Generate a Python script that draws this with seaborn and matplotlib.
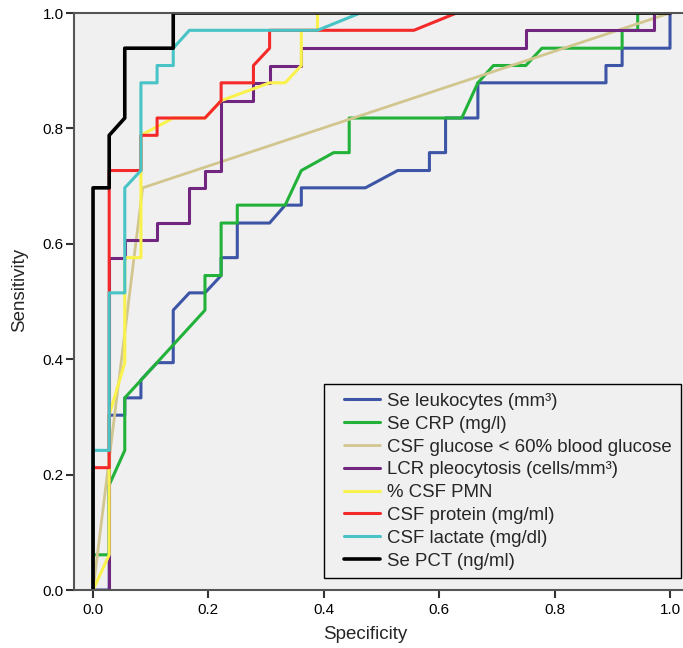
import matplotlib
matplotlib.use('Agg')

import pandas as pd
import matplotlib.pyplot as plt
import seaborn as sns
from matplotlib.legend_handler import HandlerLine2D
from matplotlib.lines import Line2D

# ROC curves
labels = ['Se leukocytes (mm³)', 'Se CRP (mg/l)', 'CSF glucose < 60% blood glucose',
          'LCR pleocytosis (cells/mm³)', '% CSF PMN', 'CSF protein (mg/ml)',
          'CSF lactate (mg/dl)', 'Se PCT (ng/ml)']

leuko_x = [0, 0.028, 0.028, 0.055, 0.055, 0.083, 0.083, 0.111, 0.139, 0.139, 0.167, 0.194,
           0.222, 0.222, 0.25, 0.25, 0.306, 0.333, 0.361, 0.361, 0.472, 0.528, 0.583, 0.583,
           0.611, 0.611, 0.667, 0.667, 0.889, 0.889, 0.917, 0.917, 1.0, 1.0]
leuko_y = [0, 0, 0.303, 0.303, 0.333, 0.333, 0.364, 0.394, 0.394, 0.485, 0.515, 0.515,
           0.545, 0.576, 0.576, 0.636, 0.636, 0.667, 0.667, 0.697, 0.697, 0.727, 0.727, 0.758,
           0.758, 0.818, 0.818, 0.879, 0.879, 0.909, 0.909, 0.939, 0.939, 1.0]

crp_x = [0, 0, 0.028, 0.028, 0.055, 0.055, 0.194, 0.194, 0.222, 0.222, 0.25, 0.25, 0.333,
         0.361, 0.417, 0.444, 0.444, 0.639, 0.667, 0.694, 0.75, 0.778, 0.917, 0.917, 0.944,
         0.944, 1.0]
crp_y = [0, 0.061, 0.061, 0.182, 0.242, 0.333, 0.485, 0.545, 0.545, 0.636, 0.636, 0.667,
         0.667, 0.727, 0.758, 0.758, 0.818, 0.818, 0.879, 0.909, 0.909, 0.939, 0.939, 0.97,
         0.97, 1.0, 1.0]

glucose_x = [0, 0.086, 1.0]
glucose_y = [0, 0.697, 1.0]

pleo_x = [0, 0.028, 0.028, 0.055, 0.055, 0.111, 0.111, 0.167, 0.167, 0.194, 0.194, 0.222,
          0.222, 0.278, 0.278, 0.306, 0.306, 0.361, 0.361, 0.75, 0.75, 0.972, 0.972, 1.0]
pleo_y = [0, 0, 0.576, 0.576, 0.606, 0.606, 0.636, 0.636, 0.697, 0.697, 0.727, 0.727,
          0.848, 0.848, 0.879, 0.879, 0.909, 0.909, 0.939, 0.939, 0.97, 0.97, 1.0, 1.0]

pmn_x = [0, 0.028, 0.028, 0.055, 0.055, 0.083, 0.083, 0.139, 0.194, 0.222, 0.306, 0.333,
         0.361, 0.361, 0.389, 0.389, 1.0]
pmn_y = [0, 0.061, 0.303, 0.394, 0.576, 0.576, 0.788, 0.818, 0.818, 0.848, 0.879, 0.879,
         0.909, 0.97, 0.97, 1.0, 1.0]

protein_x = [0, 0, 0.028, 0.028, 0.083, 0.083, 0.111, 0.111, 0.194, 0.222, 0.222, 0.278,
             0.278, 0.306, 0.306, 0.556, 0.63, 1.0]
protein_y = [0, 0.212, 0.212, 0.727, 0.727, 0.788, 0.788, 0.818, 0.818, 0.848, 0.879, 0.879,
             0.909, 0.939, 0.97, 0.97, 1.0, 1.0]

lactate_x = [0, 0, 0.028, 0.028, 0.055, 0.055, 0.083, 0.083, 0.111, 0.111, 0.139, 0.139,
             0.167, 0.389, 0.463, 1.0]
lactate_y = [0, 0.242, 0.242, 0.515, 0.515, 0.697, 0.727, 0.879, 0.879, 0.909, 0.909, 0.939,
             0.97, 0.97, 1.0, 1.0]

pct_x = [0, 0, 0.028, 0.028, 0.055, 0.055, 0.139, 0.139, 1.0]
pct_y = [0, 0.697, 0.697, 0.788, 0.818, 0.939, 0.939, 1.0, 1.0]

curves = [(leuko_x, leuko_y), (crp_x, crp_y), (glucose_x, glucose_y), (pleo_x, pleo_y),
          (pmn_x, pmn_y), (protein_x, protein_y), (lactate_x, lactate_y), (pct_x, pct_y)]
colors = ['#3d55a6', '#22b23a', '#d2c68f', '#71267f', '#f9f24c', '#f42a2a', '#48c3c6', '#000000']
widths = [2.2, 2.2, 2.0, 2.2, 2.2, 2.2, 2.2, 2.6]

sns.set_style('ticks')
plt.rcParams['font.family'] = ['Liberation Sans', 'DejaVu Sans']

fig = plt.figure(figsize=(6.83, 6.48), dpi=100)
ax = fig.add_axes([74 / 683, 1 - 590 / 648, (683 - 74) / 683, (590 - 13) / 648])
ax.set_facecolor('#f0f0f0')

for (xs, ys), lab, col, lw in zip(curves, labels, colors, widths):
    df = pd.DataFrame({'spec': xs, 'sens': ys})
    sns.lineplot(data=df, x='spec', y='sens', sort=False, estimator=None,
                 color=col, linewidth=lw, label=lab, ax=ax)

ax.set_xlim(-0.033, 1.0225)
ax.set_ylim(0, 1.0)
ax.set_xticks([0.0, 0.2, 0.4, 0.6, 0.8, 1.0])
ax.set_yticks([0.0, 0.2, 0.4, 0.6, 0.8, 1.0])
ax.set_xticklabels(['0.0', '0.2', '0.4', '0.6', '0.8', '1.0'])
ax.set_yticklabels(['0.0', '0.2', '0.4', '0.6', '0.8', '1.0'])
ax.tick_params(axis='both', labelsize=11, width=1.5, color='#333333', labelcolor='black')
ax.tick_params(axis='x', length=6, pad=3.5)
ax.tick_params(axis='y', length=6, pad=1.5)

for side in ['left', 'bottom', 'top']:
    ax.spines[side].set_color('#555555')
    ax.spines[side].set_linewidth(1.5)
ax.spines['right'].set_visible(False)

ax.set_xlabel('Specificity', fontsize=13.5)
ax.set_ylabel('Sensitivity', fontsize=13.5)
ax.xaxis.set_label_coords(0.478, -0.062)
ax.yaxis.set_label_coords(-0.076, 0.52)

# legend: handle lines pushed a bit to the right like the original
leg_fs = 13.4
handler = HandlerLine2D(numpoints=2, marker_pad=0.6)
leg = ax.legend(loc='lower right', bbox_to_anchor=(1.019, 0.02), bbox_transform=ax.transData,
                borderaxespad=0, fontsize=leg_fs, frameon=True, fancybox=False,
                handlelength=1.9 + 1.2, handletextpad=-0.2, labelspacing=0.31,
                borderpad=0.48, handler_map={Line2D: handler})
leg.get_frame().set_edgecolor('black')
leg.get_frame().set_facecolor('#f0f0f0')
leg.get_frame().set_linewidth(1.0)
leg.get_frame().set_alpha(1)

plt.savefig('out.png', dpi=100)
